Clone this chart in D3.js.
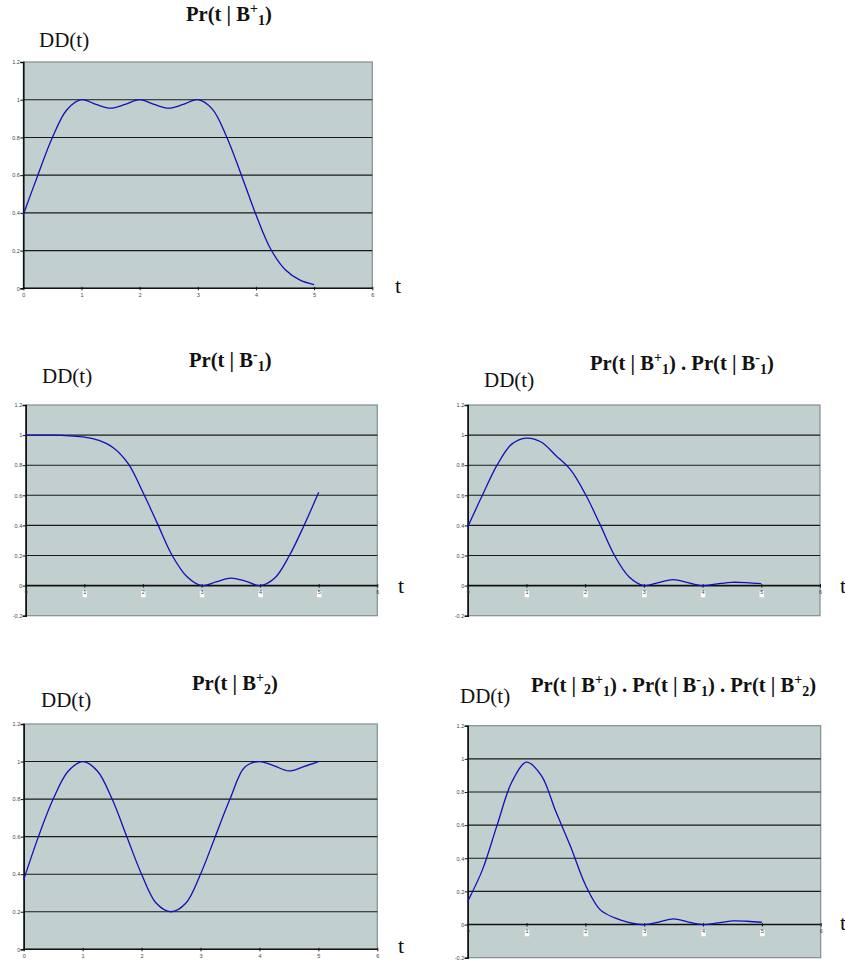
<!DOCTYPE html>
<html><head><meta charset="utf-8">
<script src="https://cdn.jsdelivr.net/npm/d3@7"></script>
<style>body{margin:0;background:#fff}</style>
</head><body>
<script>
// ---- data ----
const tValues = [0,0.25,0.5,0.75,1,1.25,1.5,1.75,2,2.25,2.5,2.75,3,3.25,3.5,3.75,4,4.25,4.5,4.75,5];
const prB1plus  = [0.39,0.6,0.8,0.947,1.0,0.975,0.955,0.975,1.0,0.975,0.955,0.975,1.0,0.95,0.8,0.6,0.39,0.21,0.1,0.045,0.02];
const prB1minus = [1.0,1.0,1.0,0.995,0.987,0.965,0.915,0.81,0.62,0.41,0.2,0.06,0.0,0.025,0.05,0.03,0.0,0.05,0.2,0.4,0.62];
const prB1prod  = [0.39,0.6,0.8,0.94,0.98,0.954,0.865,0.77,0.61,0.41,0.2,0.057,0.0,0.02,0.04,0.02,0.0,0.012,0.022,0.02,0.013];
const prB2plus  = [0.37,0.6,0.8,0.947,1.0,0.95,0.8,0.6,0.4,0.245,0.2,0.245,0.4,0.6,0.8,0.97,1.0,0.977,0.95,0.973,1.0];
const prAllProd = [0.14,0.33,0.6,0.86,0.98,0.9,0.68,0.47,0.24,0.09,0.04,0.012,0.0,0.015,0.034,0.015,0.0,0.01,0.022,0.02,0.014];
const xTicks = [0,1,2,3,4,5,6];
const yTicksPos = [0,0.2,0.4,0.6,0.8,1,1.2];
const yTicksNeg = [-0.2,0,0.2,0.4,0.6,0.8,1,1.2];
const yTickLabels = {"-0.2":"-0.2","0":"0","0.2":"0.2","0.4":"0.4","0.6":"0.6","0.8":"0.8","1":"1","1.2":"1.2"};
// title parts: [text, kind] kind: n normal, sup, sub
const titleP1 = [["Pr(t | B","n"],["+","sup"],["1","sub"],[")","n"]];
const titleP2 = [["Pr(t | B","n"],["-","sup"],["1","sub"],[")","n"]];
const titleP3 = [["Pr(t | B","n"],["+","sup"],["1","sub"],[") . Pr(t | B","n"],["-","sup"],["1","sub"],[")","n"]];
const titleP4 = [["Pr(t | B","n"],["+","sup"],["2","sub"],[")","n"]];
const titleP5 = [["Pr(t | B","n"],["+","sup"],["1","sub"],[") . Pr(t | B","n"],["-","sup"],["1","sub"],[") . Pr(t | B","n"],["+","sup"],["2","sub"],[")","n"]];
const yLabel = "DD(t)";
const xLabel = "t";

// ---- layout ----
const W = 845, H = 967;
const svg = d3.select("body").append("svg").attr("width", W).attr("height", H)
  .style("font-family","Liberation Sans, Arial, sans-serif");

const panels = [
  {vals: prB1plus,  title: titleP1, x0:23.3, x1:372.3, y0:62,   y1:288.3, dom:[0,1.2],  yt:yTicksPos,
   tx:186, ty:21, lx:39, ly:47, ax:395, ay:293},
  {vals: prB1minus, title: titleP2, x0:25.7, x1:377.3, y0:405,  y1:615.7, dom:[-0.2,1.2], yt:yTicksNeg,
   tx:189, ty:367, lx:42, ly:383, ax:398, ay:593},
  {vals: prB1prod,  title: titleP3, x0:467.7, x1:820,  y0:405,  y1:615.7, dom:[-0.2,1.2], yt:yTicksNeg,
   tx:590, ty:370, lx:484, ly:387, ax:840, ay:593},
  {vals: prB2plus,  title: titleP4, x0:23.7, x1:377.3, y0:724,  y1:949.3, dom:[0,1.2],  yt:yTicksPos,
   tx:192, ty:690, lx:41, ly:707, ax:398, ay:953},
  {vals: prAllProd, title: titleP5, x0:467.7, x1:820.7, y0:725.7, y1:957.7, dom:[-0.2,1.2], yt:yTicksNeg,
   tx:531, ty:692, lx:460, ly:703, ax:840, ay:930}
];

panels.forEach(p => {
  const x = d3.scaleLinear().domain([0,6]).range([p.x0,p.x1]);
  const y = d3.scaleLinear().domain(p.dom).range([p.y1,p.y0]);
  const g = svg.append("g");
  // background
  g.append("rect").attr("x",p.x0).attr("y",p.y0).attr("width",p.x1-p.x0).attr("height",p.y1-p.y0)
    .attr("fill","#c2cfcf").attr("stroke","#7f8f8f").attr("stroke-width",1.2);
  // gridlines
  g.selectAll("line.grid").data(p.yt.filter(v=>v>0 && v<1.2)).join("line")
    .attr("x1",p.x0).attr("x2",p.x1).attr("y1",d=>y(d)).attr("y2",d=>y(d))
    .attr("stroke","#1a1a1a").attr("stroke-width",1.1);
  // y axis
  const ya = d3.axisLeft(y).tickValues(p.yt).tickSize(3).tickFormat(d=>yTickLabels[String(+d.toFixed(1))]);
  const yg = g.append("g").attr("transform",`translate(${p.x0},0)`).call(ya);
  yg.select(".domain").attr("stroke","#111").attr("stroke-width",1.6);
  yg.selectAll(".tick line").attr("stroke","#111");
  yg.selectAll(".tick text").attr("font-size",5.5).attr("fill","#444").attr("x",-3.5);
  // x axis at y=0
  const xa = d3.axisBottom(x).tickValues(xTicks).tickSize(3).tickFormat(d3.format("d"));
  const xg = g.append("g").attr("transform",`translate(0,${y(0)})`).call(xa);
  xg.select(".domain").attr("stroke","#111").attr("stroke-width",1.6).attr("d",`M${p.x0},0H${p.x1}`);
  xg.selectAll(".tick line").attr("stroke","#111").attr("y1",-1.5).attr("y2",2);
  xg.selectAll(".tick text").attr("font-size",5.5).attr("fill","#444").attr("y",5);
  if (p.dom[0] < 0) {
    xg.selectAll(".tick").filter(d=>d>0 && d<6).insert("rect","text")
      .attr("x",-2.2).attr("y",5.2).attr("width",4.4).attr("height",6.5).attr("fill","#fff");
  }
  // line
  const line = d3.line().x((d,i)=>x(tValues[i])).y(d=>y(d)).curve(d3.curveCatmullRom.alpha(0.5));
  g.append("path").datum(p.vals).attr("d",line).attr("fill","none")
    .attr("stroke","#1010b8").attr("stroke-width",1.3);
  // title
  const tt = g.append("text").attr("x",p.tx).attr("y",p.ty)
    .attr("font-family","Liberation Serif, Times New Roman, serif").attr("font-weight","bold")
    .attr("font-size",20.6).attr("fill","#111");
  p.title.forEach(([s,k]) => {
    const ts = tt.append("tspan").text(s);
    if (k==="sup") ts.attr("font-size",14).attr("baseline-shift","55%");
    if (k==="sub") ts.attr("font-size",14).attr("baseline-shift","-25%");
  });
  // labels
  g.append("text").attr("x",p.lx).attr("y",p.ly).text(yLabel)
    .attr("font-family","Liberation Serif, Times New Roman, serif").attr("font-size",21).attr("fill","#111");
  g.append("text").attr("x",p.ax).attr("y",p.ay).text(xLabel)
    .attr("font-family","Liberation Serif, Times New Roman, serif").attr("font-size",22).attr("fill","#111");
});
</script>
</body></html>
